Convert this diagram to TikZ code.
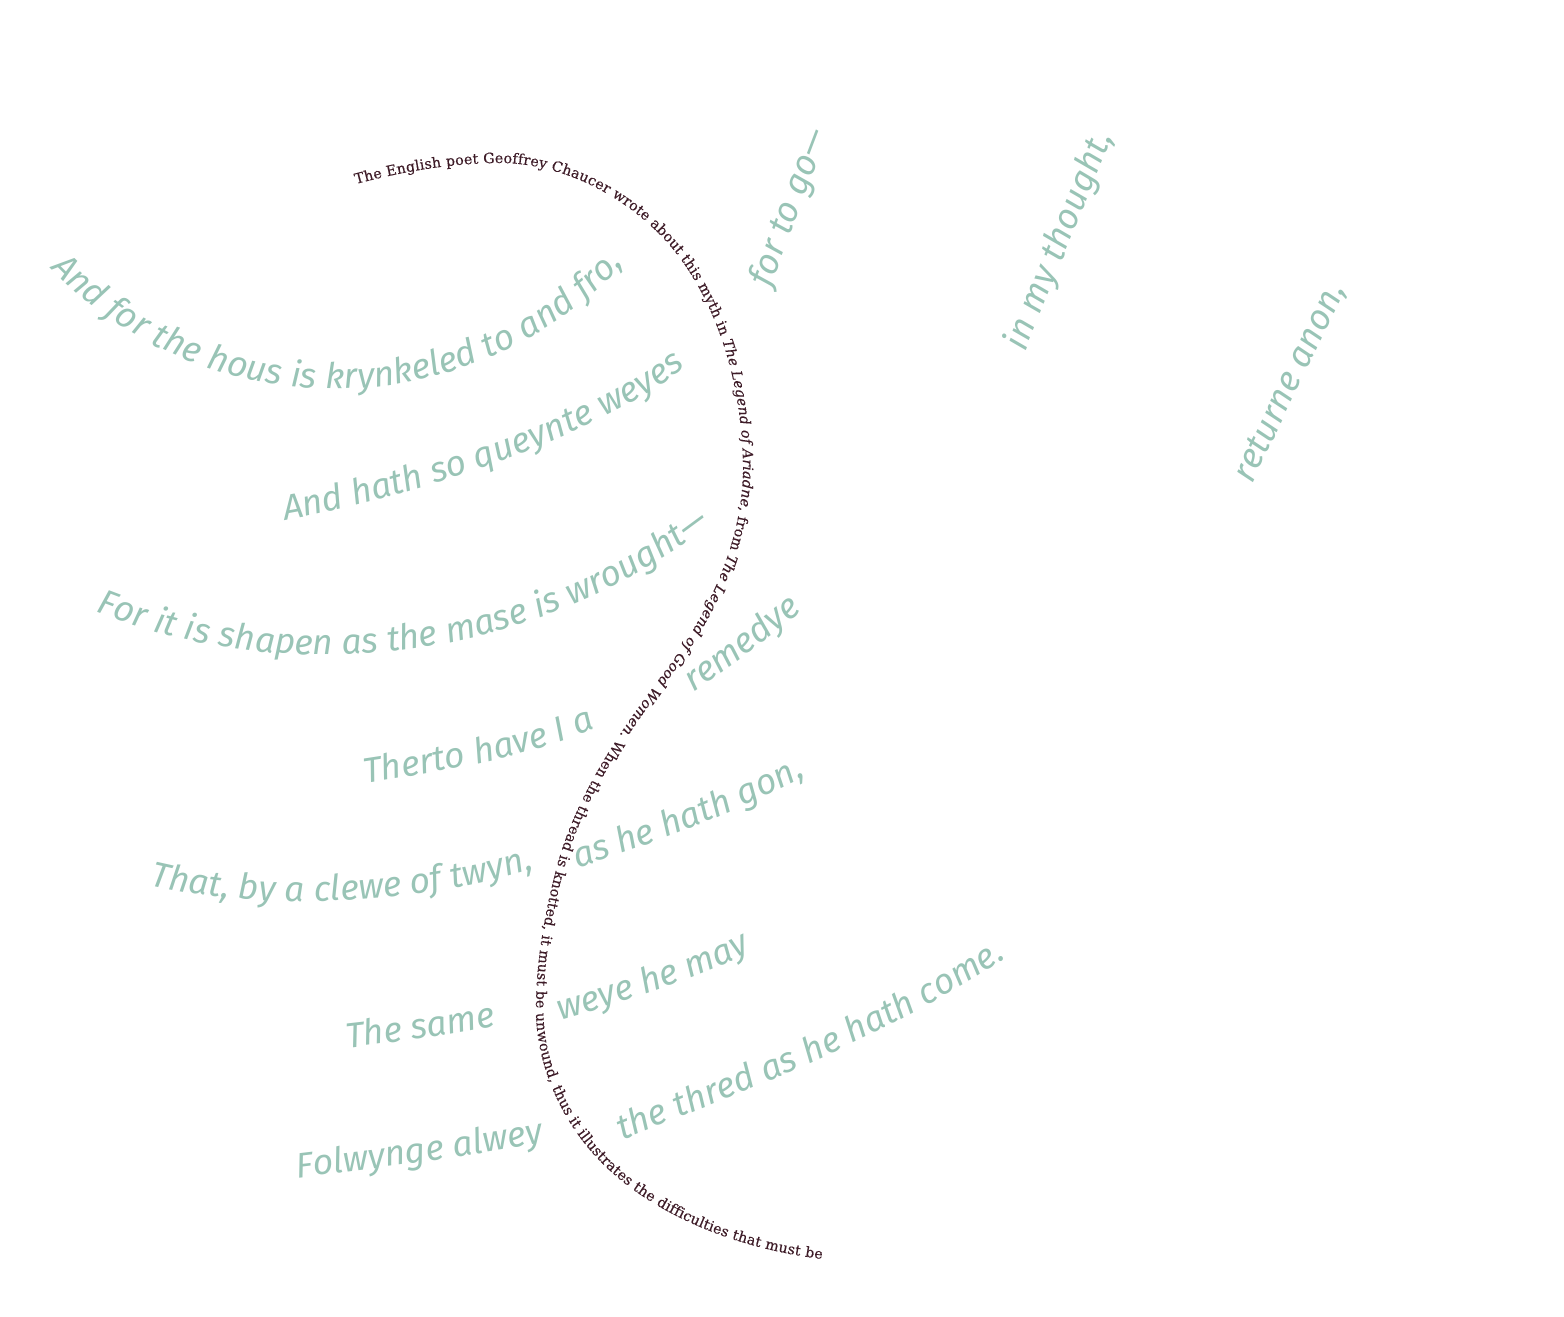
\documentclass[tikz,border=0pt]{standalone}
\usepackage{fontspec}
\usetikzlibrary{decorations.text}
\newfontfamily\versefam{Fira Sans}
\newfontfamily\threadfam[FakeBold=0.3]{DejaVu Serif}
\definecolor{verse}{HTML}{99C4B6}
\definecolor{thread}{HTML}{3E1C28}
\newcommand{\versefnt}{\versefam\itshape\fontsize{17.7}{20}\selectfont\color{verse}}
\newcommand{\threadfnt}{\threadfam\fontsize{7.1}{9}\selectfont\color{thread}}
\tikzset{
  verse/.style={decorate, decoration={text along path, text align=left, text={|\versefnt|#1}}},
}
\begin{document}
\begin{tikzpicture}[x=0.5pt,y=-0.5pt]
\useasboundingbox (0,0) rectangle (1564,1317);
% thread text
\path[decorate, decoration={text along path, text align={fit to path},
  text={|\threadfnt|The English poet Geoffrey Chaucer wrote about this myth in |\threadfnt\itshape|The Legend of Ariadne|\threadfnt|, from |\threadfnt\itshape|The Legend of Good Women|\threadfnt|. When the thread is knotted, it must be unwound, thus it illustrates the difficulties that must be}}]
  (356,184) .. controls (402.6,171.5) and (452,163) .. (500,163)
  .. controls (565,163) and (631,199) .. (672,248)
  .. controls (720,306) and (742,389) .. (743,465)
  .. controls (744,538) and (710,611.6) .. (666,670)
  .. controls (620,730.8) and (575,796.3) .. (556,870)
  .. controls (544.2,915.6) and (536,963) .. (536,1010)
  .. controls (536,1060) and (557.5,1112) .. (590,1150)
  .. controls (645,1214.6) and (738.7,1248.8) .. (822,1259);
% verses
\path[verse={And for the hous is krynkeled to and fro,}]
  plot[domain=0:1, samples=70, variable=\t] ({335+396*cos(136-110*\t)},{-7+396*sin(136-110*\t)});
\path[verse={And hath so queynte weyes}]
  (285,520) .. controls (400,500) and (580,445) .. (682,370) -- (730,334);
\path[verse={For it is shapen as the mase is wrought—}]
  plot[domain=0:1, samples=70, variable=\t] ({325+636*cos(111.2-68*\t)},{19+636*sin(111.2-68*\t)});
\path[verse={Therto have I a}]
  (365,783) .. controls (450,770) and (530,757) .. (596,728) -- (651,704);
\path[verse={That, by a clewe of twyn,}]
  (150,885) .. controls (260,912) and (420,905) .. (536,868) -- (593,850);
\path[verse={remedye}]
  (693,692) .. controls (730,668) and (770,638) .. (805,608) -- (851,569);
\path[verse={as he hath gon,}]
  (577,868) .. controls (650,845) and (730,815) .. (802,778) -- (855,751);
\path[verse={weye he may}]
  (560,1020) .. controls (630,1000) and (700,978) .. (758,948) -- (811,920);
\path[verse={The same}]
  (347,1048) .. controls (400,1042) and (450,1035) .. (495,1026) -- (554,1014);
\path[verse={Folwynge alwey}]
  (297,1178) .. controls (380,1168) and (470,1157) .. (555,1140) -- (614,1128);
\path[verse={the thred as he hath come.}]
  (622,1140) .. controls (750,1090) and (880,1040) .. (1003,960) -- (1053,927);
\path[verse={for to go—}]
  (770,288) -- (852,72);
\path[verse={in my thought,}]
  (1025,352) -- (1136,79);
\path[verse={returne anon,}]
  (1252,484) -- (1371,236);
\end{tikzpicture}
\end{document}
